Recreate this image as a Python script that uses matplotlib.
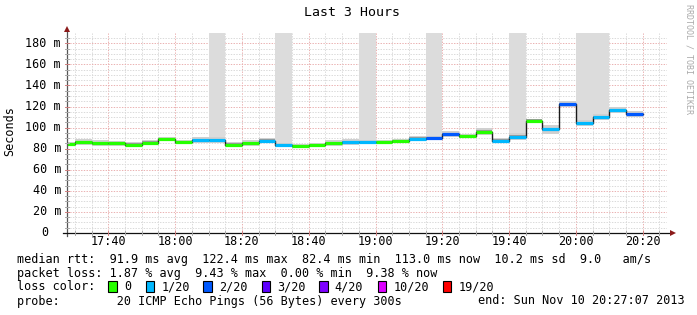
import matplotlib
matplotlib.use("Agg")
import matplotlib.pyplot as plt
import matplotlib.transforms as mtransforms
from matplotlib.lines import Line2D
from matplotlib.patches import Rectangle

W, H = 697, 315
MONO = "DejaVu Sans Mono"

# 5 minute steps, first one starts at 17:25 (minutes after 17:00)
step_start = 25
step_len = 5
median_ms = [84.5, 86.1, 85.1, 85.0, 83.9, 85.8, 89.0, 86.0, 88.3, 88.3,
             83.9, 85.1, 87.7, 83.2, 82.4, 83.2, 85.5, 86.1, 86.4, 86.1,
             87.4, 89.6, 90.2, 94.0, 91.8, 96.2, 87.7, 91.5, 106.6, 98.4,
             122.4, 104.1, 109.8, 116.8, 113.0]
loss_level = [0, 0, 0, 0, 0, 0, 0, 0, 1, 1,
              0, 0, 1, 1, 0, 0, 0, 1, 1, 0,
              0, 1, 2, 2, 0, 0, 1, 1, 0, 1,
              2, 1, 1, 1, 2]
smoke_spread = [2, 3, 3, 2, 2, 2, 2, 2, 3, 3,
                2, 3, 2, 2, 2, 2, 3, 3, 2, 2,
                2, 2, 2, 3, 2, 3, 2, 3, 2, 4,
                3, 3, 3, 3, 3]
# steps where the smoke runs off the top of the graph
tall_smoke = [9, 13, 18, 22, 27, 31, 32]

loss_colors = ['#26ff00', '#00b8ff', '#0059ff', '#5e00ff', '#7e00ff', '#dd00ff', '#ff0000']
loss_labels = ['0', '1/20', '2/20', '3/20', '4/20', '10/20', '19/20']

xtick_min = [40, 60, 80, 100, 120, 140, 160, 180, 200]
xtick_labels = ['17:40', '18:00', '18:20', '18:40', '19:00', '19:20', '19:40', '20:00', '20:20']
ytick_vals = [0, 20, 40, 60, 80, 100, 120, 140, 160, 180]
ytick_labels = ['0', '20 m', '40 m', '60 m', '80 m', '100 m', '120 m', '140 m', '160 m', '180 m']

stats_lines = [
    "median rtt:  91.9 ms avg  122.4 ms max  82.4 ms min  113.0 ms now  10.2 ms sd  9.0   am/s",
    "packet loss: 1.87 % avg  9.43 % max  0.00 % min  9.38 % now",
]
probe_line = "probe:        20 ICMP Echo Pings (56 Bytes) every 300s"
end_line = "end: Sun Nov 10 20:27:07 2013"


def fx(x):
    return x / W


def fy(y):
    return 1 - y / H


fig = plt.figure(figsize=(W / 100, H / 100), dpi=100)
ax_left, ax_right, ax_top, ax_bot = 66.7, 666.5, 33, 233
x0, x1, ytop = 27.54, 207.13, 189.75
ax = fig.add_axes([fx(ax_left), fy(ax_bot), (ax_right - ax_left) / W, (ax_bot - ax_top) / H])
ax.set_xlim(x0, x1)
ax.set_ylim(0, ytop)
for s in ax.spines.values():
    s.set_visible(False)
ax.set_xticks([])
ax.set_yticks([])

# grid
dots = (0, (1.4, 1.4))
for m in range(30, 207, 5):
    major = m % 20 == 0
    ax.axvline(m, color='#eab0b0' if major else '#d9d9d9', lw=0.7, ls=dots, zorder=0)
for v in range(5, 190, 5):
    major = v % 20 == 0
    ax.axhline(v, color='#eab0b0' if major else '#d9d9d9', lw=0.7, ls=dots, zorder=0)

edges = [step_start + i * step_len for i in range(len(median_ms) + 1)]

# tall smoke bars
for i in tall_smoke:
    ax.bar(edges[i], ytop - median_ms[i], bottom=median_ms[i], width=step_len,
           align='edge', color='#dcdcdc', lw=0, zorder=1)

# smoke around the median
for i, (m, sp) in enumerate(zip(median_ms, smoke_spread)):
    ax.bar(edges[i], 2 * sp, bottom=m - sp, width=step_len, align='edge',
           color='#d0d0d0', lw=0, zorder=2)
    ax.bar(edges[i], 2.4, bottom=m - 1.2, width=step_len, align='edge',
           color='#999999', lw=0, zorder=2)

# median line
ax.step(edges, median_ms + [median_ms[-1]], where='post', color='#1a1a1a', lw=1.0, zorder=3)
for i, m in enumerate(median_ms):
    ax.hlines(m, edges[i], edges[i + 1], color=loss_colors[loss_level[i]], lw=2.3, zorder=4)

# axes lines with arrows
fig.add_artist(Line2D([fx(ax_left), fx(ax_left)], [fy(236), fy(31)], color='#555555', lw=0.9))
fig.add_artist(Line2D([fx(63), fx(671)], [fy(ax_bot), fy(ax_bot)], color='#111111', lw=0.9))
fig.add_artist(Line2D([fx(ax_left)], [fy(29)], marker='^', ms=5, color='#8b1a1a', mew=0))
fig.add_artist(Line2D([fx(673)], [fy(ax_bot)], marker='>', ms=5, color='#8b1a1a', mew=0))

# small tick marks on the axes
for m in range(30, 207, 5):
    xp = ax_left + (m - x0) * (ax_right - ax_left) / (x1 - x0)
    c = '#d08080' if m % 20 == 0 else '#aaaaaa'
    fig.add_artist(Line2D([fx(xp), fx(xp)], [fy(ax_bot - 2), fy(ax_bot + 2)], color=c, lw=0.7))
for v in range(5, 190, 5):
    yp = ax_bot - v * (ax_bot - ax_top) / ytop
    c = '#d08080' if v % 20 == 0 else '#aaaaaa'
    fig.add_artist(Line2D([fx(ax_left - 2), fx(ax_left + 2)], [fy(yp), fy(yp)], color=c, lw=0.7))

# tick labels
ytrans = mtransforms.blended_transform_factory(fig.transFigure, ax.transData)
for v, lab in zip(ytick_vals, ytick_labels):
    xr = 61 if v else 48.5
    ax.text(fx(xr), v, lab, transform=ytrans, ha='right', va='center',
            family=MONO, fontsize=8.5, clip_on=False)
xtrans = mtransforms.blended_transform_factory(ax.transData, fig.transFigure)
for m, lab in zip(xtick_min, xtick_labels):
    ax.text(m, fy(241.5), lab, transform=xtrans, ha='center', va='center',
            family=MONO, fontsize=8.5, clip_on=False)

fig.text(fx(10), fy(131), "Seconds", rotation=90, ha='center', va='center', family=MONO, fontsize=8.5)
fig.text(fx(352), fy(13), "Last 3 Hours", ha='center', va='center', family=MONO, fontsize=9.5)
fig.text(fx(689), fy(4), "RRDTOOL / TOBI OETIKER", rotation=270, ha='center', va='top',
         family=MONO, fontsize=6, color='#aaaaaa')

# legend / statistics
for k, line in enumerate(stats_lines):
    fig.text(fx(17), fy(259 + 14 * k), line, ha='left', va='center', family=MONO, fontsize=8.5)
fig.text(fx(17), fy(287), "loss color:", ha='left', va='center', family=MONO, fontsize=8.5)
box_x = [108.3, 145.7, 203.3, 261.7, 319.3, 377.7, 442.7]
for bx, col, lab in zip(box_x, loss_colors, loss_labels):
    fig.add_artist(Rectangle((fx(bx), fy(291.5)), 8.5 / W, 11 / H, transform=fig.transFigure,
                             facecolor=col, edgecolor='black', lw=0.8))
    fig.text(fx(bx + 15.5), fy(287), lab, ha='left', va='center', family=MONO, fontsize=8.5)
fig.text(fx(17), fy(301), probe_line, ha='left', va='center', family=MONO, fontsize=8.5)
fig.text(fx(478), fy(301), end_line, ha='left', va='center', family=MONO, fontsize=8.5)

fig.savefig("out.png", dpi=100, facecolor='white')
